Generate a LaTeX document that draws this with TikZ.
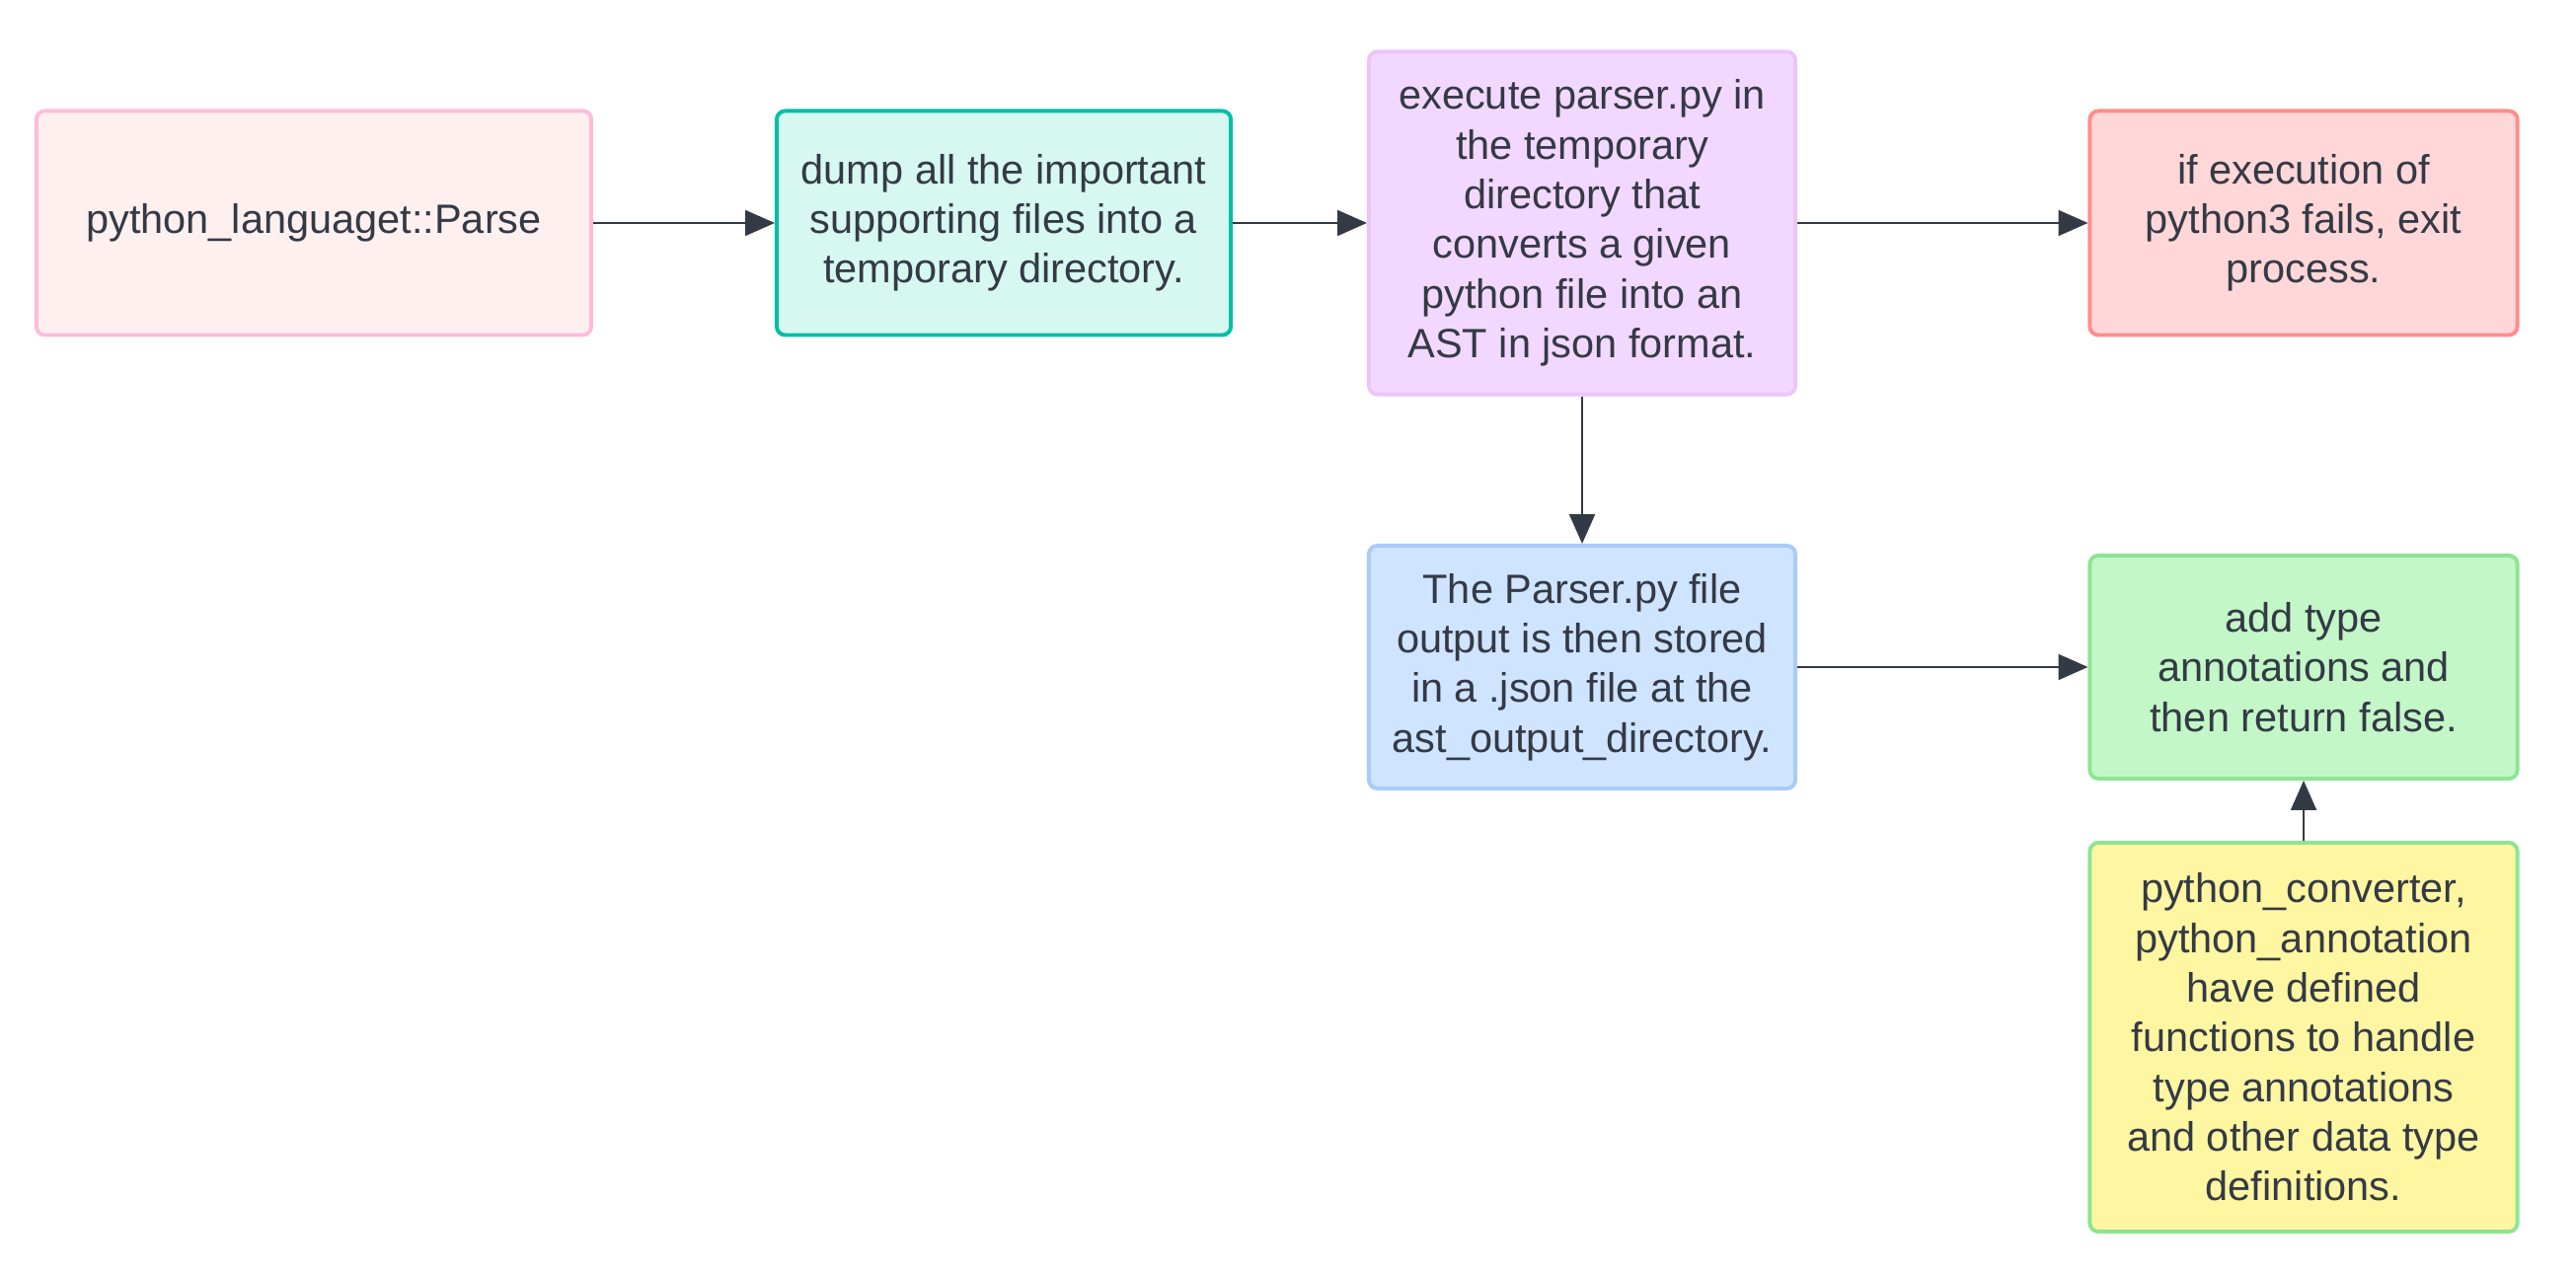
\documentclass[tikz,border=0pt]{standalone}
\usepackage{fontspec}
\setmainfont{Liberation Sans}
\usepackage{tikz}
\usetikzlibrary{arrows.meta}
\definecolor{txt}{HTML}{343A45}
\definecolor{pinkfill}{HTML}{FFF0F0}
\definecolor{pinkline}{HTML}{FFBBDA}
\definecolor{tealfill}{HTML}{D6F8F1}
\definecolor{tealline}{HTML}{00BFA5}
\definecolor{purplefill}{HTML}{F2D8FE}
\definecolor{purpleline}{HTML}{ECC4FB}
\definecolor{redfill}{HTML}{FFD7D8}
\definecolor{redline}{HTML}{FF8D8D}
\definecolor{bluefill}{HTML}{CFE4FF}
\definecolor{blueline}{HTML}{A9CBF8}
\definecolor{greenfill}{HTML}{C3F7C8}
\definecolor{greenline}{HTML}{8DE592}
\definecolor{yellowfill}{HTML}{FFF6A1}
\tikzset{
  box/.style={draw, line width=1.1pt, rounded corners=2.5pt, align=center,
    text=txt, inner sep=0pt, font=\fontsize{11.8}{14.3}\selectfont},
  flow/.style={draw=txt, line width=0.5pt, -{Triangle[length=8.5pt,width=7.4pt]}}
}

\begin{document}
\begin{tikzpicture}[x=0.01cm,y=0.01cm]
\useasboundingbox (0,0) rectangle (2610,1292);
%boxes
%top row
\node[box, fill=pinkfill, draw=pinkline, minimum width=5.62cm, minimum height=2.27cm] (parse) at (318,1066) {python\_languaget::Parse};
\node[box, fill=tealfill, draw=tealline, minimum width=4.6cm, minimum height=2.27cm] (dump) at (1017,1066) {dump all the important\\supporting files into a\\temporary directory.};
\node[box, fill=purplefill, draw=purpleline, minimum width=4.32cm, minimum height=3.47cm] (exec) at (1603,1066) {execute parser.py in\\the temporary\\directory that\\converts a given\\python file into an\\AST in json format.};
\node[box, fill=redfill, draw=redline, minimum width=4.33cm, minimum height=2.27cm] (fail) at (2334,1066) {if execution of\\python3 fails, exit\\process.};
%middle row
\node[box, fill=bluefill, draw=blueline, minimum width=4.32cm, minimum height=2.46cm] (stored) at (1603,616) {The Parser.py file\\output is then stored\\in a .json file at the\\ast\_output\_directory.};
\node[box, fill=greenfill, draw=greenline, minimum width=4.33cm, minimum height=2.26cm] (annot) at (2334,616) {add type\\annotations and\\then return false.};
%bottom
\node[box, fill=yellowfill, draw=greenline, minimum width=4.33cm, minimum height=3.94cm] (conv) at (2334,241) {python\_converter,\\python\_annotation\\have defined\\functions to handle\\type annotations\\and other data type\\definitions.};

%arrows
\draw[flow] (parse.east) -- (dump.west);
\draw[flow] (dump.east) -- (exec.west);
\draw[flow] (exec.east) -- (fail.west);
\draw[flow] (exec.south) -- (stored.north);
\draw[flow] (stored.east) -- (annot.west);
\draw[flow] (conv.north) -- (annot.south);
\end{tikzpicture}
\end{document}
